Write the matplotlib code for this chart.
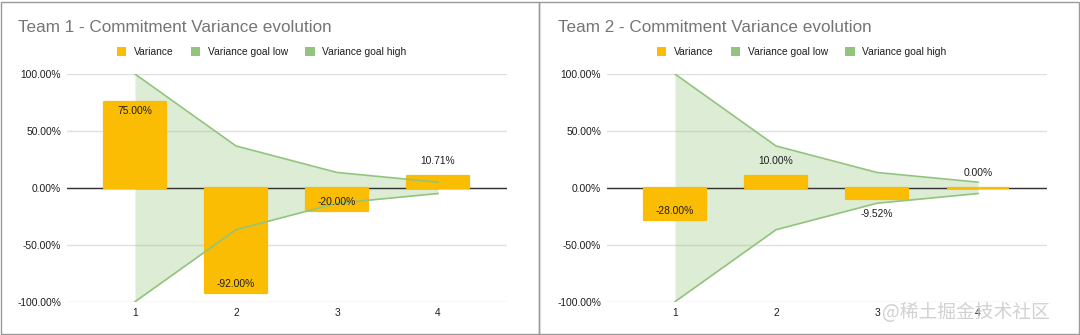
import matplotlib
matplotlib.use("Agg")
import matplotlib.pyplot as plt
from matplotlib.patches import Patch, Rectangle
from matplotlib.ticker import FuncFormatter
import matplotlib.patheffects as pe

plt.rcParams['font.family'] = ['Liberation Sans', 'DejaVu Sans']

# Data
sprints = [1, 2, 3, 4]
team_names = ["Team 1", "Team 2"]
team1_variance = [75.00, -92.00, -20.00, 10.71]
team2_variance = [-28.00, 10.00, -9.52, 0.00]
goal_high = [100.0, 36.8, 13.5, 5.0]
goal_low = [-100.0, -36.8, -13.5, -5.0]
y_ticks = [-100, -50, 0, 50, 100]

BAR_COLOR = "#FBBC04"
GOAL_COLOR = "#93C47D"
TEXT_COLOR = "#1e1e1e"
TITLE_COLOR = "#757575"
FS = 7.4

fig = plt.figure(figsize=(10.8, 3.35), dpi=100)

# panel frames
fig.patches.append(Rectangle((0.5 / 1080, 1.5 / 335), 538.5 / 1080, 332 / 335,
                             transform=fig.transFigure, fill=False,
                             edgecolor="#9a9a9a", linewidth=1.0))
fig.patches.append(Rectangle((539 / 1080, 1.5 / 335), 540 / 1080, 332 / 335,
                             transform=fig.transFigure, fill=False,
                             edgecolor="#9a9a9a", linewidth=1.0))

panel_offsets = [0, 540]
series = [team1_variance, team2_variance]

for name, values, off in zip(team_names, series, panel_offsets):
    ax = fig.add_axes([(off + 67) / 1080, 33.3 / 335, 440 / 1080, 227.7 / 335])

    # goal band
    ax.fill_between(sprints, goal_low, goal_high, color=GOAL_COLOR,
                    alpha=0.32, linewidth=0, zorder=1)
    ax.axhline(0, color="#333333", linewidth=1.0, zorder=2)
    ax.bar(sprints, values, width=0.62, color=BAR_COLOR, edgecolor=BAR_COLOR,
           linewidth=1.6, joinstyle="round", zorder=3)
    ax.plot(sprints, goal_low, color=GOAL_COLOR, linewidth=1.2, zorder=4)
    ax.plot(sprints, goal_high, color=GOAL_COLOR, linewidth=1.2, zorder=4)

    # value labels: inside the bar end when it fits, otherwise just outside
    for x, v in zip(sprints, values):
        sign = 1 if v >= 0 else -1
        if abs(v) >= 15:
            dy = -6.5 * sign
        else:
            dy = 10.8 * sign
        ax.annotate(f"{v:.2f}%", (x, v), xytext=(0, dy), textcoords="offset points",
                    ha="center", va="center", fontsize=FS, color=TEXT_COLOR, zorder=5)

    ax.set_xlim(0.327, 4.683)
    ax.set_ylim(-100, 100)
    ax.set_yticks(y_ticks)
    ax.yaxis.set_major_formatter(FuncFormatter(lambda v, p: f"{v:.2f}%"))
    ax.set_xticks(sprints)
    ax.set_xticklabels([str(s) for s in sprints])
    ax.tick_params(length=0, labelsize=FS, colors=TEXT_COLOR, pad=4.3)
    ax.grid(axis="y", color="#e0e0e0", linewidth=1.0, zorder=0)
    ax.set_axisbelow(True)
    for s in ax.spines.values():
        s.set_visible(False)
    ax.set_facecolor("none")

    fig.text((off + 18) / 1080, 1 - 32.3 / 335,
             f"{name} - Commitment Variance evolution",
             fontsize=12.3, color=TITLE_COLOR, ha="left", va="baseline")

    handles = [Patch(facecolor=BAR_COLOR, edgecolor="none", label="Variance"),
               Patch(facecolor=GOAL_COLOR, edgecolor="none", label="Variance goal low"),
               Patch(facecolor=GOAL_COLOR, edgecolor="none", label="Variance goal high")]
    fig.legend(handles=handles, loc="center", ncol=3,
               bbox_to_anchor=((off + 261.5) / 1080, 1 - 52 / 335),
               frameon=False, fontsize=FS, handlelength=0.95, handleheight=0.95,
               handletextpad=0.7, columnspacing=1.7, labelcolor=TEXT_COLOR,
               borderaxespad=0, borderpad=0)

fig.text(1050 / 1080, 1 - 312.7 / 335, "@稀土掘金技术社区",
         family=["Noto Sans CJK SC", "DejaVu Sans"], fontsize=13.5,
         color="#c9c9c9", ha="right", va="center", alpha=0.85)

fig.savefig("out.png", dpi=100)
